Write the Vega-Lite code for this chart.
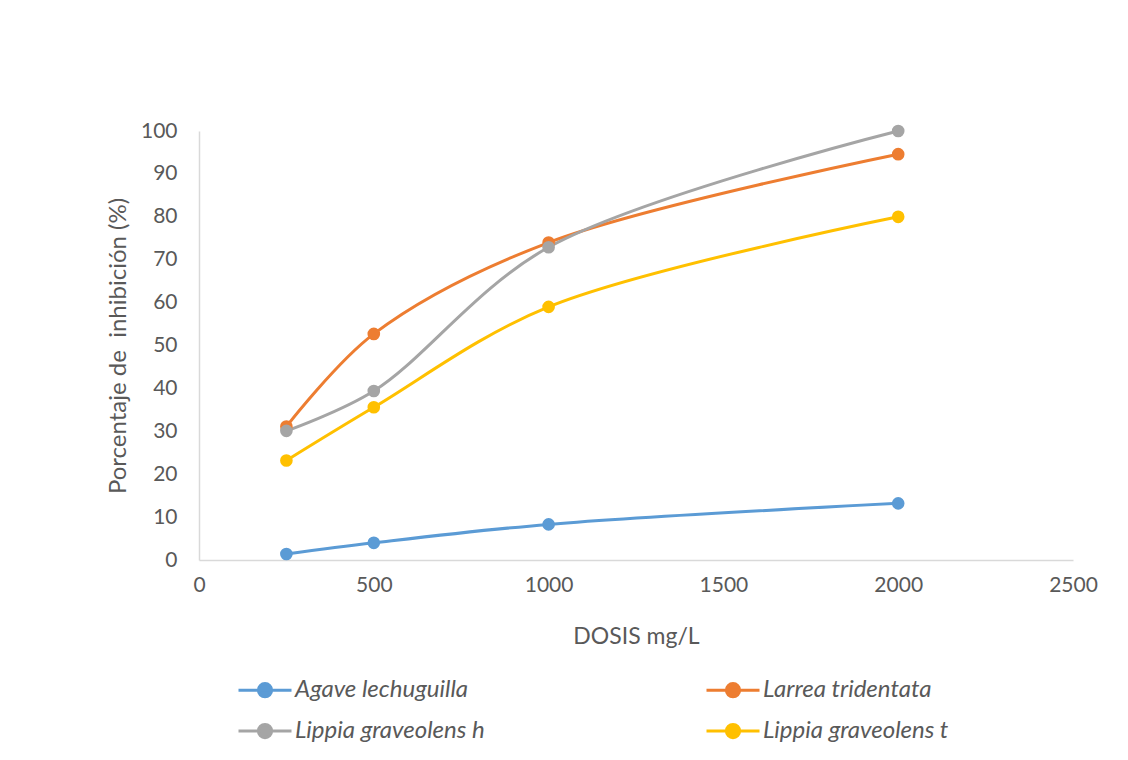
{
  "$schema": "https://vega.github.io/schema/vega-lite/v6.json",
  "width": 874,
  "height": 429,
  "autosize": "none",
  "padding": {"left": 199, "top": 131, "right": 55, "bottom": 200},
  "background": "white",
  "config": {
    "view": {"stroke": null},
    "font": "Lato",
    "axis": {"grid": false, "ticks": false, "tickSize": 0, "domainColor": "#D9D9D9", "domainWidth": 1.5,
             "labelColor": "#595959", "titleColor": "#595959", "labelFont": "Lato", "titleFont": "Lato",
             "labelFontSize": 21, "titleFontSize": 23, "titleFontWeight": "normal"}
  },
  "data": {
    "values": [
      {"dose": 250, "pct": 1.4, "species": "Agave lechuguilla"},
      {"dose": 500, "pct": 4.0, "species": "Agave lechuguilla"},
      {"dose": 1000, "pct": 8.3, "species": "Agave lechuguilla"},
      {"dose": 2000, "pct": 13.2, "species": "Agave lechuguilla"},
      {"dose": 250, "pct": 31.1, "species": "Larrea tridentata"},
      {"dose": 500, "pct": 52.7, "species": "Larrea tridentata"},
      {"dose": 1000, "pct": 74.0, "species": "Larrea tridentata"},
      {"dose": 2000, "pct": 94.6, "species": "Larrea tridentata"},
      {"dose": 250, "pct": 30.1, "species": "Lippia graveolens h"},
      {"dose": 500, "pct": 39.4, "species": "Lippia graveolens h"},
      {"dose": 1000, "pct": 72.9, "species": "Lippia graveolens h"},
      {"dose": 2000, "pct": 100, "species": "Lippia graveolens h"},
      {"dose": 250, "pct": 23.2, "species": "Lippia graveolens t"},
      {"dose": 500, "pct": 35.6, "species": "Lippia graveolens t"},
      {"dose": 1000, "pct": 59.0, "species": "Lippia graveolens t"},
      {"dose": 2000, "pct": 80.0, "species": "Lippia graveolens t"}
    ]
  },
  "mark": {
    "type": "line",
    "interpolate": "catmull-rom",
    "strokeWidth": 3,
    "point": {"filled": true, "size": 160, "opacity": 1}
  },
  "encoding": {
    "x": {
      "field": "dose", "type": "quantitative",
      "scale": {"domain": [0, 2500], "nice": false},
      "axis": {"values": [0, 500, 1000, 1500, 2000, 2500], "format": "d", "title": "DOSIS mg/L",
               "labelPadding": 14, "labelFlush": false,
               "titleX": 437, "titleY": 76, "titleBaseline": "middle", "titleAlign": "center"}
    },
    "y": {
      "field": "pct", "type": "quantitative",
      "scale": {"domain": [0, 100], "nice": false},
      "axis": {"values": [0, 10, 20, 30, 40, 50, 60, 70, 80, 90, 100], "format": "d", "title": "Porcentaje de\u00a0 inhibición (%)",
               "labelPadding": 22, "labelFlush": false, "titleFontSize": 24,
               "titleX": -81, "titleY": 214.5, "titleAngle": -90, "titleBaseline": "middle", "titleAlign": "center"}
    },
    "color": {
      "field": "species", "type": "nominal",
      "scale": {
        "domain": ["Agave lechuguilla", "Larrea tridentata", "Lippia graveolens h", "Lippia graveolens t"],
        "range": ["#5B9BD5", "#ED7D31", "#A5A5A5", "#FFC000"]
      },
      "legend": {
        "title": null,
        "orient": "none",
        "legendX": 38,
        "legendY": 531,
        "direction": "horizontal",
        "columns": 2,
        "columnPadding": 215,
        "rowPadding": -21,
        "symbolType": "M-1,0L1,0M-0.25,0A0.25,0.25 0 1,1 0.25,0A0.25,0.25 0 1,1 -0.25,0Z",
        "symbolSize": 2809,
        "symbolStrokeWidth": 3,
        "symbolOffset": 0,
        "labelFont": "Lato",
        "labelFontStyle": "italic",
        "labelFontSize": 24,
        "labelLimit": 0,
        "labelColor": "#595959",
        "labelOffset": 2,
        "encode": {
          "symbols": {"update": {"fill": {"scale": "color", "field": "value"}, "stroke": {"scale": "color", "field": "value"}, "opacity": {"value": 1}}}
        }
      }
    }
  }
}
